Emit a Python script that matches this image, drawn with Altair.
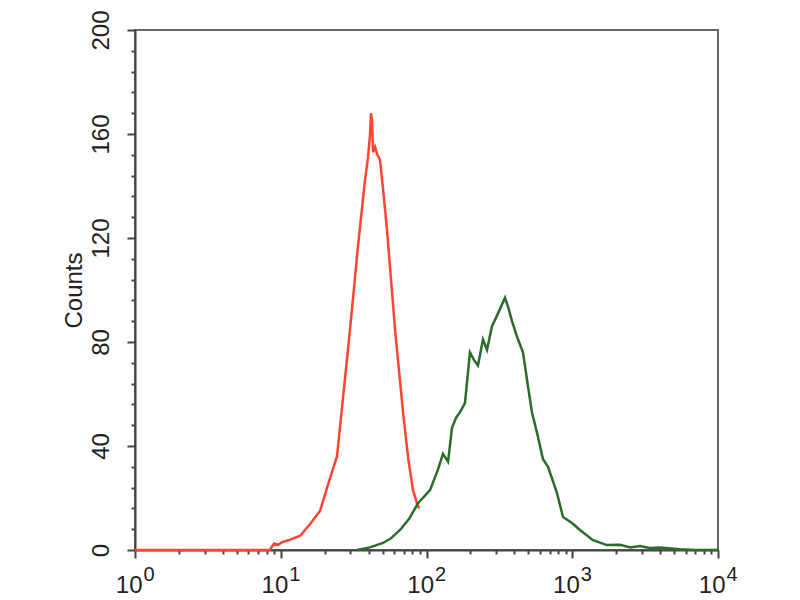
import altair as alt
import pandas as pd

# Red histogram (isotype control)
red_x = [1, 2, 4, 8.4, 9.0, 9.6, 10.2, 11.6, 13.6, 15.9, 18.6, 21.6, 24.3, 26.8, 29.9,
         33.9, 37.8, 39.7, 41.0, 41.6, 42.3, 43.0, 44.4, 46.0, 48.0, 50.5, 53.6, 60.8,
         69.0, 75.0, 80.8, 86.0, 89.0]
red_y = [0, 0, 0, 0, 2.5, 2, 3, 4, 5.5, 10, 15, 27, 36, 59, 85,
         117, 142, 151, 160, 168, 165, 153, 155, 152, 150, 138, 123, 85,
         53, 35, 23, 18, 16]

# Green histogram (antibody)
green_x = [33.4, 40.9, 50.3, 57, 65.8, 76, 87.5, 105.7, 120, 129.7, 140.6, 149.6, 160,
           169.8, 183.6, 198.7, 212, 225.5, 244, 260, 281, 309.5, 345.6, 365, 386, 418,
           459, 497, 529, 582, 629, 682, 785, 864, 996, 1130, 1387, 1730, 2127, 2500,
           2917, 3400, 4000, 5487, 7000, 10000]
green_y = [0, 1, 2.7, 4.5, 7.7, 12, 18, 23, 31, 37, 34, 47, 51,
           53, 56.5, 76, 73, 71, 81, 77, 86, 91, 97, 93, 88, 82,
           76, 63, 53, 43.5, 35, 32, 22, 12.7, 10.4, 7.7, 3.8, 1.9, 2, 1,
           1.5, 0.8, 1, 0.3, 0, 0]

# Axis ticks and labels
x_major = [1, 10, 100, 1000, 10000]
x_minor = [2, 3, 4, 5, 6, 7, 8, 9, 20, 30, 40, 50, 60, 70, 80, 90,
           200, 300, 400, 500, 600, 700, 800, 900, 2000, 3000, 4000, 5000, 6000, 7000, 8000, 9000]
x_base_label = "10"
x_exponents = ["0", "1", "2", "3", "4"]
y_major = [0, 40, 80, 120, 160, 200]
y_minor = [8, 16, 24, 32, 48, 56, 64, 72, 88, 96, 104, 112, 128, 136,
           144, 152, 168, 176, 184, 192]

red = pd.DataFrame({"x": red_x, "y": red_y})
green = pd.DataFrame({"x": green_x, "y": green_y})

FONT = "Liberation Sans"
TXT = "#222222"
AX = "#444444"

exp_expr = " : ".join(f"datum.value == {v} ? '{e}'" for v, e in zip(x_major, x_exponents)) + " : ''"

xscale = alt.Scale(type="log", domain=[1, 10000], nice=False)
yscale = alt.Scale(domain=[0, 200], nice=False)

x_axis_main = alt.Axis(
    values=x_major, labelExpr=f"'{x_base_label}'",
    tickSize=8, tickColor=AX, tickWidth=2, domainColor=AX, domainWidth=2,
    labelFont=FONT, labelFontSize=24, labelColor=TXT,
    labelAlign="right", labelBaseline="top", labelOffset=7, labelPadding=15,
    labelFlush=False, labelOverlap=False, grid=False, title=None, orient="bottom",
)
x_axis_exp = alt.Axis(
    values=x_major, labelExpr=exp_expr,
    ticks=False, tickSize=0, domain=False,
    labelFont=FONT, labelFontSize=20, labelColor=TXT,
    labelAlign="left", labelBaseline="top", labelOffset=8, labelPadding=14,
    labelFlush=False, labelOverlap=False, grid=False, title=None, orient="bottom",
)
x_axis_minor = alt.Axis(
    values=x_minor, labels=False, domain=False,
    tickSize=4, tickColor=AX, tickWidth=2,
    grid=False, title=None, orient="bottom",
)
y_axis_main = alt.Axis(
    values=y_major,
    tickSize=8, tickColor=AX, tickWidth=2, domainColor=AX, domainWidth=2,
    labelFont=FONT, labelFontSize=24, labelColor=TXT,
    labelAngle=-90, labelAlign="center", labelBaseline="bottom", labelPadding=14,
    labelFlush=False, labelOverlap=False, grid=False,
    title="Counts", titleFont=FONT, titleFontSize=24, titleFontWeight="normal",
    titleColor=TXT, titlePadding=3, orient="left",
)
y_axis_minor = alt.Axis(
    values=y_minor, labels=False, domain=False,
    tickSize=4, tickColor=AX, tickWidth=2,
    grid=False, title=None, orient="left",
)

red_line = alt.Chart(red).mark_line(color="#ff4433", strokeWidth=2.5).encode(
    x=alt.X("x:Q", scale=xscale, axis=x_axis_main),
    y=alt.Y("y:Q", scale=yscale, axis=y_axis_main),
)
green_line = alt.Chart(green).mark_line(color="#2b6b2b", strokeWidth=2.5).encode(
    x=alt.X("x:Q", scale=xscale, axis=x_axis_exp),
    y=alt.Y("y:Q", scale=yscale, axis=y_axis_minor),
)
minor_layer = alt.Chart(red).mark_line(strokeOpacity=0).encode(
    x=alt.X("x:Q", scale=xscale, axis=x_axis_minor),
    y=alt.Y("y:Q", scale=yscale, axis=None),
)

chart = alt.layer(minor_layer, red_line, green_line).resolve_axis(
    x="independent", y="independent"
).properties(
    width=583, height=520,
    autosize="none",
    padding={"left": 127, "top": 22, "right": 70, "bottom": 48},
).configure_view(stroke="#666666", strokeWidth=2)

chart.save("out.html", embed_options={"renderer": "svg", "actions": False})
